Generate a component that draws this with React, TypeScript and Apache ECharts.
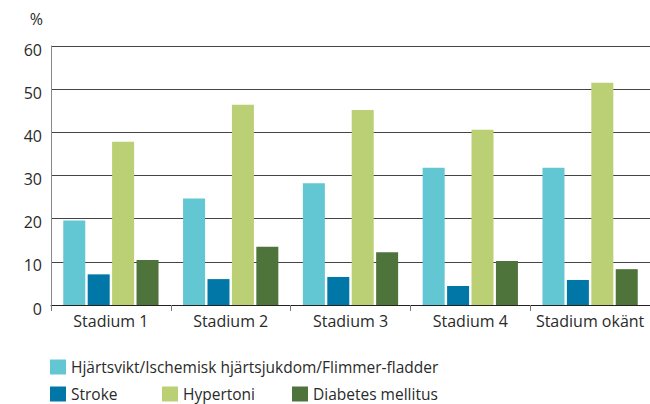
import React, { useEffect, useRef } from "react";
import * as echarts from "echarts";

const categories = ["Stadium 1", "Stadium 2", "Stadium 3", "Stadium 4", "Stadium okänt"];
const seriesNames = [
  "Hjärtsvikt/Ischemisk hjärtsjukdom/Flimmer-fladder",
  "Stroke",
  "Hypertoni",
  "Diabetes mellitus",
];
const hjartsvikt = [19.6, 24.7, 28.2, 31.8, 31.8];
const stroke = [7.1, 6.0, 6.5, 4.4, 5.8];
const hypertoni = [37.8, 46.4, 45.2, 40.6, 51.5];
const diabetes = [10.4, 13.5, 12.2, 10.2, 8.3];
const colors = ["#62C6D3", "#0077A6", "#BBCF74", "#4E733B"];
const yTicks = [0, 10, 20, 30, 40, 50, 60];

const FONT = "Open Sans";

export default function App() {
  const ref = useRef<HTMLDivElement>(null);
  useEffect(() => {
    if (!ref.current) return;
    const chart = echarts.init(ref.current, undefined, { renderer: "svg" });
    const values = [hjartsvikt, stroke, hypertoni, diabetes];
    const legendPos = [
      { left: 50, top: 359 },
      { left: 50, top: 386 },
      { left: 162, top: 386 },
      { left: 292, top: 386 },
    ];
    chart.setOption({
      animation: false,
      textStyle: { fontFamily: FONT },
      grid: { left: 51, top: 46, width: 599, bottom: 99 },
      legend: seriesNames.map((n, i) => ({
        data: [n],
        left: legendPos[i].left,
        top: legendPos[i].top,
        padding: 0,
        itemWidth: 16,
        itemHeight: 15,
        itemGap: 6,
        icon: "rect",
        textStyle: { fontFamily: FONT, fontSize: 15.5, color: "#2a2a2a" },
        selectedMode: false,
      })),
      xAxis: {
        type: "category",
        data: categories,
        axisLine: { lineStyle: { color: "#222", width: 1 } },
        axisTick: { show: true, length: 6, lineStyle: { color: "#777" } },
        axisLabel: { interval: 0, fontFamily: FONT, fontSize: 16, color: "#2a2a2a", margin: 8 },
      },
      yAxis: {
        type: "value",
        min: 0,
        max: 60,
        interval: 10,
        name: "%",
        nameLocation: "end",
        nameGap: 19,
        nameTextStyle: { fontFamily: FONT, fontSize: 16, color: "#2a2a2a", align: "right", padding: [0, 8, 0, 0] },
        axisLine: { show: true, lineStyle: { color: "#888" } },
        axisTick: { show: false },
        axisLabel: {
          fontFamily: FONT,
          fontSize: 16,
          color: "#2a2a2a",
          margin: 9,
          formatter: (v: number) => (yTicks.includes(v) ? "{a|" + v + "}" : ""),
          rich: {
            a: { fontFamily: FONT, fontSize: 16, color: "#2a2a2a", padding: [7, 0, 0, 0] },
          },
        },
        splitLine: { show: true, lineStyle: { color: "#444", width: 1 } },
      },
      series: seriesNames.map((n, i) => ({
        name: n,
        type: "bar",
        data: values[i],
        barWidth: 22,
        barGap: "11%",
        itemStyle: { color: colors[i] },
      })),
    });
    return () => chart.dispose();
  }, []);
  return <div ref={ref} style={{ width: 650, height: 404, position: "absolute", left: 0, top: 0 }} />;
}
